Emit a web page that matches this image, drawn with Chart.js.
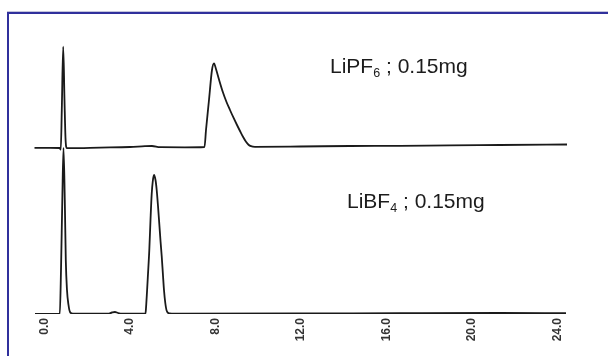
<!DOCTYPE html>
<html>
<head>
<meta charset="utf-8">
<script src="https://cdn.jsdelivr.net/npm/chart.js@4/dist/chart.umd.min.js"></script>
<style>
  html, body { margin: 0; padding: 0; background: #ffffff; }
  #wrap { position: relative; width: 608px; height: 356px; overflow: hidden; background: #fff; }
  #frame { position: absolute; left: 7px; top: 12px; width: 610px; height: 360px;
           border-left: 2px solid #30309c; border-top: 2px solid #30309c;
           box-shadow: 0 -1px 0 #c4c4dc; }
  canvas { position: absolute; left: 0; top: 0; }
  .lbl { position: absolute; font-family: "Liberation Sans", Arial, sans-serif; font-size: 21px;
         line-height: 21px; color: #1c1c1c; white-space: nowrap; }
  .lbl .sub { font-size: 12.5px; position: relative; top: 4px; }
</style>
</head>
<body>
<div id="wrap">
  <div id="frame"></div>
  <canvas id="c" width="608" height="356"></canvas>
  <div class="lbl" style="left:330px; top:55px;">LiPF<span class="sub">6</span> ; 0.15mg</div>
  <div class="lbl" style="left:347px; top:190px;">LiBF<span class="sub">4</span> ; 0.15mg</div>
</div>
<script>
// Retention time (min) and detector signal for each trace (signal in arbitrary units)
const timeLiPF6 = [-0.468, 0.257, 0.702, 0.762, 0.809, 0.875, 0.935, 0.982, 1.043, 1.193, 2.596, 3.999, 4.701, 5.028, 5.403, 6.571,
  7.484, 7.554, 7.694, 7.834, 7.928, 8.021, 8.162, 8.349, 8.513, 8.676, 8.840, 9.004, 9.144, 9.284, 9.425, 9.542, 9.659, 9.846,
  11.950, 14.289, 16.628, 18.966, 21.305, 24.439];
const signalLiPF6 = [166.2, 166.2, 166, 164.5, 204, 267.3, 214, 176, 166, 165.8, 166.4, 167, 167.8, 168, 166.8, 166.7,
  167, 184, 214, 244, 250.7, 245, 234.5, 221.5, 212, 204, 196.3, 189, 183, 177.2, 172.2, 169.3, 167.8, 167.2,
  167.5, 168, 168.2, 168.7, 169, 169.5];

const timeLiBF4 = [-0.444, 0.716, 0.772, 0.833, 0.889, 0.949, 0.996, 1.052, 1.123, 1.193, 1.333, 2.970, 3.157, 3.297, 3.438, 3.625,
  4.724, 4.748, 4.794, 4.841, 4.902, 4.958, 5.014, 5.066, 5.122, 5.192, 5.248, 5.309, 5.370, 5.430, 5.482, 5.538, 5.589, 5.650, 5.720, 5.847, 6.104,
  11.950, 16.628, 21.305, 24.392];
const signalLiBF4 = [0, 0, 44, 114, 166, 114, 54, 24, 9, 2, 0.3, 0.3, 1.5, 2, 1, 0.3,
  0.3, 6, 22, 40, 64, 94, 120, 133, 139, 134, 124, 108, 90, 72, 58, 40, 24, 11, 3, 0.5, 0.3,
  0.5, 0.8, 1, 0.8];

const tickValues = [0, 4, 8, 12, 16, 20, 24];
const tickLabels = ["0.0", "4.0", "8.0", "12.0", "16.0", "20.0", "24.0"];

const toPoints = (xs, ys) => xs.map((x, i) => ({ x: x, y: ys[i] }));

new Chart(document.getElementById('c'), {
  type: 'line',
  data: {
    datasets: [
      { label: 'LiPF6', data: toPoints(timeLiPF6, signalLiPF6), borderColor: '#1a1a1a', borderWidth: 1.8,
        pointRadius: 0, fill: false, cubicInterpolationMode: 'monotone' },
      { label: 'LiBF4', data: toPoints(timeLiBF4, signalLiBF4), borderColor: '#1a1a1a', borderWidth: 1.8,
        pointRadius: 0, fill: false, cubicInterpolationMode: 'monotone' }
    ]
  },
  options: {
    responsive: false,
    animation: false,
    events: [],
    layout: { padding: { left: 34, right: 41, top: 40, bottom: 0 } },
    plugins: { legend: { display: false }, tooltip: { enabled: false } },
    scales: {
      x: {
        type: 'linear', min: -0.491, max: 24.439,
        grid: { display: false, drawTicks: false },
        border: { display: false },
        afterBuildTicks: (scale) => { scale.ticks = tickValues.map(v => ({ value: v })); },
        afterFit: (scale) => { scale.height = 42; },
        ticks: {
          autoSkip: false, minRotation: 90, maxRotation: 90, padding: 4,
          color: '#333333', font: { family: 'Liberation Sans', size: 12, weight: 'bold' },
          callback: (v) => { const i = tickValues.indexOf(v); return i >= 0 ? tickLabels[i] : ''; }
        }
      },
      y: { type: 'linear', min: 0, max: 274, display: false }
    }
  }
});
</script>
</body>
</html>
